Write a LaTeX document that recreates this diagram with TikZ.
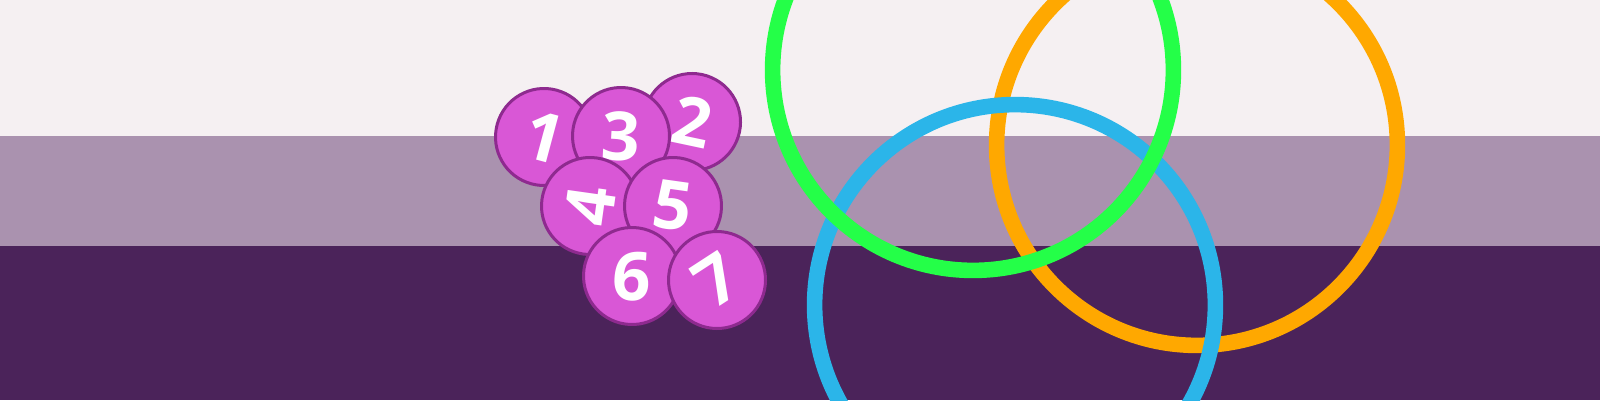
\documentclass[tikz,border=0pt]{standalone}
\usepackage{fontspec}
\setmainfont{Open Sans}
\usepackage{xcolor}
\definecolor{bandtop}{HTML}{F5F0F2}
\definecolor{bandmid}{HTML}{AA92AF}
\definecolor{bandlow}{HTML}{4B235A}
\definecolor{diskfill}{HTML}{D957D6}
\definecolor{diskline}{HTML}{8E2A8F}
\definecolor{ringgreen}{HTML}{24FF48}
\definecolor{ringorange}{HTML}{FFA800}
\definecolor{ringblue}{HTML}{2BB5E9}

\begin{document}
\begin{tikzpicture}[x=0.25mm, y=-0.25mm]
    \tikzset{
      disk/.style={circle, draw=diskline, fill=diskfill, line width=0.75mm, minimum size=24.25mm, inner sep=0pt,
                   text=white, font=\fontsize{48pt}{48pt}\selectfont\bfseries},
      ring/.style={line width=3.9mm},
    }
    \useasboundingbox (0,0) rectangle (1600,400);
    \fill[bandtop] (0,0) rectangle (1600,136);
    \fill[bandmid] (0,136) rectangle (1600,246);
    \fill[bandlow] (0,246) rectangle (1600,400);

    \begin{scope}
      \clip (0,0) rectangle (1600,400);
      \draw[ring, ringorange] (1197,145) circle[radius=50.1mm];
      \draw[ring, ringblue]   (1015,305) circle[radius=50.1mm];
      \draw[ring, ringgreen]  (973,70)   circle[radius=50.1mm];
    \end{scope}

    \node[disk, rotate=-15] (d1) at (544,137) {1};
    \node[disk, rotate=-12] (d2) at (692,122) {2};
    \node[disk, rotate=-3]  (d3) at (621,136) {3};
    \node[disk, rotate=82]  (d4) at (590,206) {4};
    \node[disk, rotate=-8]  (d5) at (673,206) {5};
    \node[disk, rotate=-3]  (d6) at (632,276) {6};
    \node[disk, rotate=33]  (d7) at (717,280) {7};
  \end{tikzpicture}
\end{document}
